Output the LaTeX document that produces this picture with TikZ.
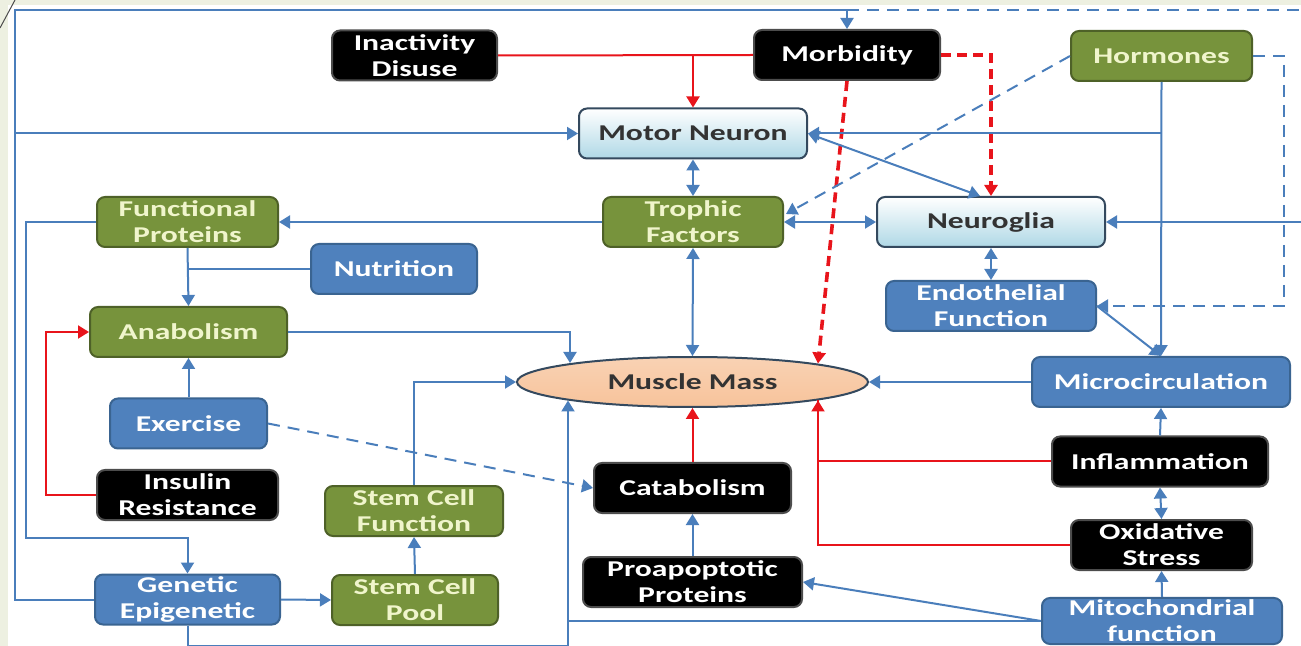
\documentclass[tikz,border=0pt]{standalone}
\usepackage{fontspec}
\setmainfont{Carlito}[FakeStretch=1.40]
\usetikzlibrary{arrows.meta,calc,shapes.geometric}
\definecolor{bg}{HTML}{EDF0E1}
\definecolor{lblue}{HTML}{4A7EBB}
\definecolor{bfill}{HTML}{4F81BD}
\definecolor{bedge}{HTML}{3A6491}
\definecolor{gfill}{HTML}{77933C}
\definecolor{gedge}{HTML}{4E6128}
\definecolor{gtext}{HTML}{F0F5CC}
\definecolor{sky}{HTML}{AFD8E6}
\definecolor{skyedge}{HTML}{34495E}
\definecolor{peach}{HTML}{F7C39B}
\definecolor{ared}{HTML}{E8141B}

\begin{document}
\begin{tikzpicture}[x=0.5pt,y=-0.5pt,
  >={Triangle[width=6.5pt,length=5.5pt]},
  every node/.style={font=\fontsize{11.3}{13}\selectfont\bfseries,align=center,inner sep=1pt},
  box/.style={rectangle,rounded corners=4pt,line width=1pt,minimum height=25pt},
  greenbox/.style={box,fill=gfill,draw=gedge,text=gtext},
  bluebox/.style={box,fill=bfill,draw=bedge,text=white},
  blackbox/.style={box,fill=black,draw=black!70,text=white},
  skybox/.style={box,top color=white,bottom color=sky,draw=skyedge,text=black!80},
  muscle/.style={ellipse,line width=1pt,draw=skyedge,top color=peach!75,middle color=peach!25,bottom color=peach,text=black!80},
  link/.style={draw=lblue,line width=1pt},
  dlink/.style={link,dash pattern=on 6pt off 4pt},
  rlink/.style={draw=ared,line width=1pt},
  rdlink/.style={draw=ared,line width=1.8pt,dash pattern=on 5pt off 3pt}]

  \clip (0,0) rectangle (1301,646);
  \fill[bg] (0,0) rectangle (1301,646);
  \fill[white] (8,5) rectangle (1301,646);
  \draw[black!70,line width=0.5pt] (0,28) -- (15,0);

  \node (inact) at (414.5,55.5) [blackbox,minimum width=82.5pt]{Inactivity\\Disuse};
  \node (morb) at (847,55) [blackbox,minimum width=93pt]{Morbidity};
  \node (horm) at (1161.5,56) [greenbox,minimum width=90.5pt]{Hormones};
  \node (motor) at (693,133.5) [skybox,minimum width=114pt]{Motor Neuron};
  \node (fprot) at (187.5,222) [greenbox,minimum width=90.5pt]{Functional\\Proteins};
  \node (troph) at (693,222) [greenbox,minimum width=90pt]{Trophic\\Factors};
  \node (glia) at (991,222) [skybox,minimum width=114pt]{Neuroglia};
  \node (nutr) at (394,269) [bluebox,minimum width=83pt]{Nutrition};
  \node (endo) at (991,306) [bluebox,minimum width=105pt]{Endothelial\\Function};
  \node (anab) at (188.5,332) [greenbox,minimum width=98.5pt]{Anabolism};
  \node (mm) at (692.5,382) [muscle,minimum width=175.5pt,minimum height=25pt]{Muscle Mass};
  \node (micro) at (1161,382) [bluebox,minimum width=129pt]{Microcirculation};
  \node (exer) at (188.5,423.5) [bluebox,minimum width=78.5pt]{Exercise};
  \node (infl) at (1160,461.5) [blackbox,minimum width=108pt]{Inflammation};
  \node (insul) at (187.5,495) [blackbox,minimum width=90.5pt]{Insulin\\Resistance};
  \node (scfun) at (414,511) [greenbox,minimum width=89pt]{Stem Cell\\Function};
  \node (catab) at (692.5,488) [blackbox,minimum width=98.5pt]{Catabolism};
  \node (scpool) at (415,600) [greenbox,minimum width=83pt]{Stem Cell\\Pool};
  \node (genet) at (187.5,599.5) [bluebox,minimum width=92.5pt]{Genetic\\Epigenetic};
  \node (proap) at (692.5,582) [blackbox,minimum width=109.5pt]{Proapoptotic\\Proteins};
  \node (oxid) at (1161.5,545) [blackbox,minimum width=90.5pt]{Oxidative\\Stress};
  \node (mito) at (1162,621) [bluebox,minimum width=120pt,minimum height=23pt]{Mitochondrial\\function};

  \coordinate (tl) at (15,10);
  \coordinate (tr) at (1301,10);
  \coordinate (re) at (1301,222);
  \coordinate (mmne) at ($(mm)+(125.5,-18.5)$);
  \coordinate (mmnw) at ($(mm)+(-122.5,-19)$);
  \coordinate (mmsw) at ($(mm)+(-124.5,18.5)$);
  \coordinate (mmse) at ($(mm)+(125.5,18.5)$);

  \draw[link,->] (genet.west) -| (tl) -| (morb.north);
  \draw[link,->] (motor.west -| tl) -- (motor.west);
  \draw[dlink] (morb.north |- tl) -- (tr);

  \draw[rlink] (inact.east) -- (morb.west);
  \draw[rlink,->] (motor.north |- morb.west) -- (motor.north);
  \draw[rdlink,->] (morb.east) -| (glia.north);
  \draw[rdlink,->] (morb.south) -- (mmne);

  \draw[link,<->] (motor.south) -- (troph.north);
  \draw[link,<->] (motor.east) -- ($(glia.north)+(-11,0)$);
  \draw[link,->] (horm.south) -- (micro.north);
  \draw[link,->] (horm.south |- motor.east) -- (motor.east);
  \draw[dlink,->] (horm.west) -- ($(troph.east)+(2,-8)$);
  \draw[link,<->] (troph.east) -- (glia.west);
  \draw[link,->] (re) -- (glia.east);
  \draw[dlink,->] (horm.east) -- ++(31,0) |- (endo.east);

  \draw[link,->] (troph.west) -- (fprot.east);
  \draw[link,<->] (troph.south) -- (mm.north);
  \draw[link,->] (fprot.west) -- ++(-70,0) |- ($(genet.north)+(0,-36)$) -- (genet.north);
  \draw[link,->] (fprot.south) -- (anab.north);
  \draw[link] (nutr.west) -- (fprot.south |- nutr.west);
  \draw[link,->] (anab.east) -| (mmnw);
  \draw[link,->] (exer.north) -- (anab.south);
  \draw[dlink,->] (exer.east) -- (catab.west);
  \draw[rlink,->] (insul.west) -- ++(-50,0) |- (anab.west);
  \draw[link,->] (genet.east) -- (scpool.west);
  \draw[link,->] (scpool.north) -- (scfun.south);
  \draw[link,->] (scfun.north) |- (mm.west);
  \draw[link,->] (genet.south) |- ($(mmsw)+(0,245)$) -- (mmsw);
  \draw[link] (mito.west) -- (mito.west -| mmsw);
  \draw[link,->] (mito.west) -- (proap.east);

  \draw[link,->] (mito.north) -- (oxid.south);
  \draw[link,<->] (oxid.north) -- (infl.south);
  \draw[link,->] (infl.north) -- (micro.south);
  \draw[link,->] (micro.west) -- (mm.east);
  \draw[link,->] (endo.east) -- (micro.north);
  \draw[link,<->] (glia.south) -- (endo.north);
  \draw[rlink,->] (infl.west) -| (mmse);
  \draw[rlink] (oxid.west) -| (mmse);
  \draw[rlink,->] (catab.north) -- (mm.south);
  \draw[link,->] (proap.north) -- (catab.south);

\end{tikzpicture}
\end{document}
